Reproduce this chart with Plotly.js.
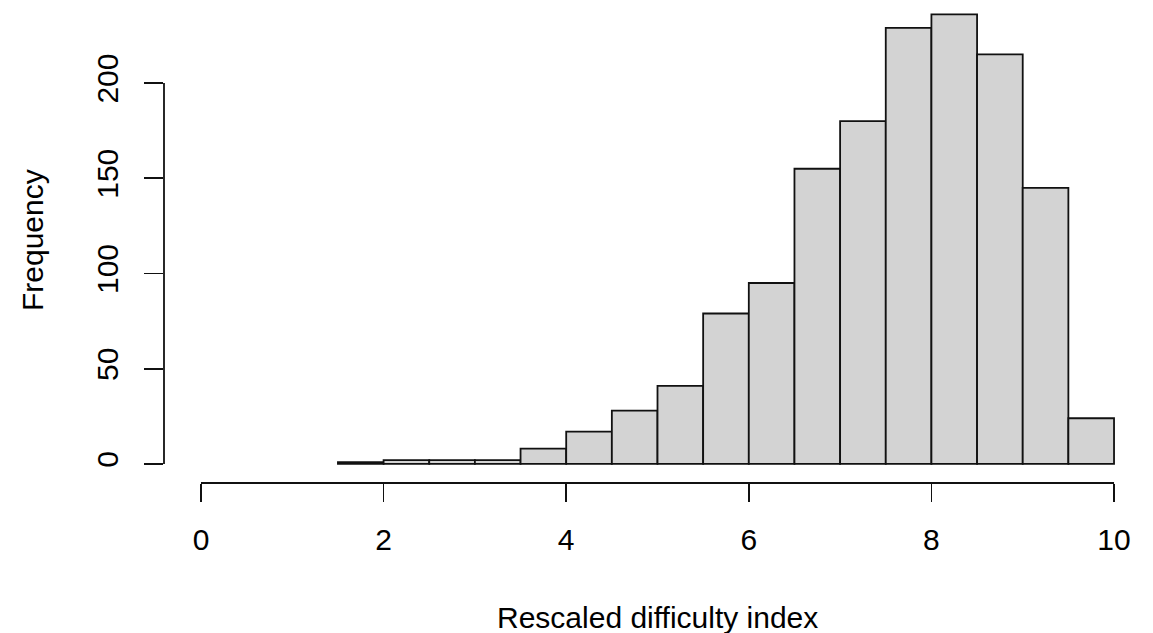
<!DOCTYPE html>
<html><head><meta charset="utf-8">
<script src="https://cdn.plot.ly/plotly-3.0.1.min.js"></script>
<style>html,body{margin:0;padding:0;background:#fff;}#chart{width:1153px;height:633px;}</style>
</head><body><div id="chart"></div>
<script>
const binStarts = [1.5,2,2.5,3,3.5,4,4.5,5,5.5,6,6.5,7,7.5,8,8.5,9,9.5];
const binWidth = 0.5;
const counts = [1,2,2,2,8,17,28,41,79,95,155,180,229,236,215,145,24];
const xTicks = [0,2,4,6,8,10];
const yTicks = [0,50,100,150,200];
const xTitle = "Rescaled difficulty index";
const yTitle = "Frequency";

const font = {family: "Liberation Sans, Arial, sans-serif", size: 30, color: "#000"};
const trace = {
  type: "bar",
  x: binStarts.map(s => s + binWidth/2),
  y: counts,
  width: binStarts.map(() => binWidth),
  marker: {color: "#D3D3D3", line: {color: "#111", width: 1.8}},
  hoverinfo: "x+y"
};
const layout = {
  width: 1153, height: 633,
  margin: {l: 164, r: 3, t: 0, b: 150},
  paper_bgcolor: "#fff", plot_bgcolor: "#fff",
  showlegend: false,
  font: font,
  xaxis: {range: [-0.405, 10.394], tickvals: xTicks, ticktext: xTicks.map(String),
          ticks: "outside", ticklen: 18, tickwidth: 1.8, tickcolor: "#111",
          showgrid: false, zeroline: false, showline: false, ticklabelstandoff: 12, tickfont: font},
  yaxis: {range: [-10, 243.6], tickvals: yTicks, ticktext: yTicks.map(String),
          ticks: "outside", ticklen: 19, tickwidth: 1.8, tickcolor: "#111", tickangle: -90,
          showgrid: false, zeroline: false, showline: false, ticklabelstandoff: 14, tickfont: font},
  shapes: [
    {type: "line", xref: "x", yref: "paper", x0: xTicks[0], x1: xTicks[xTicks.length-1], y0: 0, y1: 0,
     line: {color: "#111", width: 1.8}},
    {type: "line", xref: "paper", yref: "y", x0: 0, x1: 0, y0: yTicks[0], y1: yTicks[yTicks.length-1],
     line: {color: "#111", width: 1.8}}
  ],
  annotations: [
    {text: xTitle, xref: "paper", yref: "paper", x: 0.5, y: -(617-483)/483, xanchor: "center", yanchor: "middle",
     showarrow: false, font: font},
    {text: yTitle, xref: "paper", yref: "paper", x: -(164-32)/986, y: (483-240)/483, xanchor: "center", yanchor: "middle",
     textangle: -90, showarrow: false, font: font}
  ]
};
Plotly.newPlot("chart", [trace], layout, {displayModeBar: false, staticPlot: true});
</script></body></html>
